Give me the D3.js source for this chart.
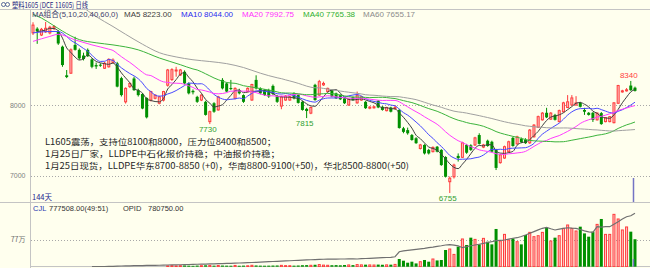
<!DOCTYPE html>
<html><head><meta charset="utf-8">
<script src="https://cdn.jsdelivr.net/npm/d3@7/dist/d3.min.js"></script>
<style>html,body{margin:0;padding:0;background:#ffffee;}svg{display:block}</style>
</head><body>
<svg id="c" width="650" height="268"></svg>
<script>
// ---------------- data ----------------
const opens = [
9020,9080,8990,9035,9020,9090,9035,8825,8420,8450,
8850,8780,8700,8780,8645,8565,8570,8520,8540,8600,
8590,8380,8045,8260,8375,8210,8155,8100,8070,8095,
8025,8070,8280,8360,8490,8425,8470,8305,8200,8115,
8070,8045,7765,8025,7930,8355,8305,8240,8095,8210,
8140,8190,8070,8355,8235,8210,8210,8270,8125,7985,
8070,8070,8165,8140,8045,7945,7885,8285,8140,8285,
8190,8210,8165,8140,8095,8000,8110,8030,8070,8045,
7955,7960,8060,7975,7920,7965,7950,7930,7670,7645,
7575,7530,7385,7435,7365,7340,7410,7365,7265,6915,
6985,7280,7260,7435,7430,7435,7575,7405,7495,7480,
7365,7185,7250,7340,7535,7450,7520,7510,7465,7550,
7685,7790,7890,7800,7860,7765,7905,7965,8000,8000,
8030,7930,7890,7890,7790,7885,7765,7765,7750,8025,
8185,8200,8275,8245];
const highs = [
9170,9100,9090,9175,9120,9130,9060,8840,8495,8800,
8965,8800,8740,8800,8660,8600,8590,8610,8660,8660,
8610,8400,8250,8320,8400,8230,8170,8110,8200,8150,
8130,8200,8510,8520,8540,8510,8490,8320,8220,8130,
8150,8060,7920,8040,8130,8380,8320,8355,8250,8230,
8150,8250,8300,8420,8250,8220,8230,8290,8140,8130,
8140,8125,8180,8150,8060,7960,7975,8300,8355,8330,
8245,8220,8175,8150,8100,8090,8120,8190,8130,8055,
7985,7990,8070,7985,7975,7975,8000,7945,7690,7680,
7590,7545,7450,7445,7380,7415,7420,7375,7275,6990,
7170,7315,7480,7450,7445,7550,7600,7450,7510,7495,
7380,7310,7425,7495,7550,7565,7540,7530,7660,7730,
7850,7900,7960,7900,7875,7935,8045,8140,8140,8125,
8045,7960,7900,7900,7895,7900,7830,7845,8040,8285,
8215,8240,8340,8260];
const lows = [
8990,8865,8975,9020,9000,9060,8850,8540,8380,8440,
8770,8640,8630,8680,8520,8510,8540,8510,8530,8590,
8250,8120,8020,8240,8200,8120,7940,7810,8050,8080,
8010,8050,8260,8340,8400,8410,8290,8150,8150,8030,
8055,7850,7730,7890,7920,8220,8180,8210,8080,8150,
8030,8180,8060,8220,8150,8130,8100,8140,8030,7940,
8060,8060,8080,8020,7920,7815,7870,8060,8130,8270,
8180,8110,8085,8070,8015,7990,8060,8020,8060,7945,
7940,7950,7955,7920,7910,7895,7930,7665,7600,7580,
7495,7450,7370,7300,7300,7330,7330,7140,6975,6755,
6960,7200,7250,7310,7350,7420,7440,7390,7410,7330,
7080,7170,7240,7330,7410,7440,7460,7450,7450,7540,
7675,7780,7815,7790,7780,7755,7895,7955,7990,7990,
7965,7860,7850,7760,7780,7720,7755,7755,7740,8015,
8175,8190,8200,8190];
const closes = [
9130,9040,9070,9085,9100,9110,8870,8565,8395,8780,
8780,8660,8650,8690,8540,8545,8555,8590,8645,8635,
8260,8140,8235,8305,8210,8140,7950,7825,8190,8140,
8115,8190,8495,8500,8495,8495,8305,8165,8180,8045,
8140,7860,7905,7905,8115,8235,8190,8235,8235,8165,
8045,8235,8290,8235,8165,8140,8120,8155,8045,8115,
8125,8115,8095,8030,7930,7915,7965,8070,8330,8305,
8235,8120,8095,8080,8025,8080,8070,8140,8115,7955,
7970,7975,7965,7930,7965,7905,7965,7675,7620,7600,
7505,7460,7435,7315,7315,7400,7340,7150,6985,6965,
7150,7250,7465,7325,7365,7535,7450,7435,7420,7340,
7110,7295,7410,7480,7420,7550,7475,7460,7645,7715,
7835,7885,7825,7885,7790,7920,8030,8045,8100,8030,
7975,7905,7860,7790,7885,7730,7820,7835,8030,8275,
8200,8215,8210,8200];
const volumes = [
0,0,0,0,0,0,0,0,0,0,
0,0,0,0,0,0,0,0,0,0,
0,0,0,0,0,0,0,0,0,0,
0,0,25000,30000,22000,28000,35000,30000,25000,32000,
28000,40000,38000,30000,35000,33000,30000,28000,36000,27000,
31000,26000,40000,35000,30000,28000,30000,33000,35000,38000,
30000,28000,30000,34000,42000,45000,40000,55000,60000,45000,
40000,42000,45000,40000,48000,50000,45000,60000,52000,58000,
50000,48000,60000,55000,52000,58000,65000,218000,170000,113000,
142000,93000,142000,190000,142000,218000,178000,190000,473000,501000,
348000,567000,785000,615000,822000,773000,632000,802000,708000,632000,
1068000,728000,915000,756000,802000,708000,632000,898000,972000,850000,
878000,972000,1105000,728000,822000,878000,1085000,1181000,1085000,1011000,
1133000,943000,850000,992000,1198000,1351000,915000,915000,1482000,1351000,
1040000,1125000,992000,777508];
const openInterest = [
null,null,null,null,null,null,null,null,null,null,
null,null,null,null,20000,21000,22000,23000,24500,26000,
28000,30000,31000,32500,34000,35000,36000,37500,39000,40000,
41000,42500,44000,45000,46500,48000,50000,51000,53000,55000,
56000,58000,60000,61500,63000,65000,66500,68000,70000,72500,
75000,78000,80000,83000,86000,88000,91000,94000,96500,99000,
102000,105000,108000,111000,113000,116000,119000,121000,124000,126000,
127000,128000,129000,130000,130000,131000,132000,130000,134000,137000,
140000,143000,146000,149000,151000,154000,162000,233000,245000,252000,
260000,268000,275000,282000,292000,300000,310000,318000,329000,335000,
328000,317000,291000,305000,318000,329000,340000,352000,365000,376000,
392000,396000,400000,412000,425000,433000,450000,472000,496000,520000,
545000,567000,580000,560000,543000,555000,567000,575000,570000,567000,
550000,530000,515000,510000,590000,585000,592000,590000,625000,661000,
700000,732000,745000,780750];

// moving averages: periods, legend values, and read-off values where the window is not yet full
const maPeriods = [5, 10, 20, 40, 60];
const maNames = ["MA5", "MA10", "MA20", "MA40", "MA60"];
const maLegendValues = ["8223.00", "8044.00", "7992.75", "7765.38", "7655.17"];
const ma5Lead = [[1, 9040], [3, 9060]];
const ma10Lead = [[0, 9020], [4, 9040], [6, 9040], [8, 8970]];
const ma20Lead = [[0, 8900], [4, 8970], [6, 9000], [10, 8920], [14, 8850], [18, 8790]];
const ma40Lead = [[0, 9280], [2, 9230], [5, 9120], [7, 9045], [11, 8925], [15, 8880], [19, 8850], [25, 8780], [30, 8665], [35, 8570], [38, 8510]];
const ma60Lead = [[0, 9800], [8, 9550], [15, 9250], [19, 9110], [22, 9000], [26, 8860], [30, 8740], [34, 8680], [38, 8640], [42, 8615], [46, 8585], [50, 8530], [54, 8450], [58, 8385]];

const priceTicks = [7000, 8000];
const volTicks = [770000];
const volTickLabels = ["77万"];

const markIndex = [42, 65, 99, 142];
const markValue = [7730, 7815, 6755, 8340];
const markKind = ["low", "low", "low", "high"];

const titleText = "塑料1605 (DCE 11605) 日线";
const comboText = "MA组合(5,10,20,40,60,0)";
const noteLines = [
  "L1605震荡，支持位8100和8000，压力位8400和8500；",
  "1月25日厂家，LLDPE中石化报价持稳；中油报价持稳；",
  "1月25日现货，LLDPE华东8700-8850 (+0)，华南8800-9100(+50)，华北8500-8800(+50)"
];
const volLabel = ["CJL", "777508.00(49:51)", "OPID", "780750.00"];

// ---------------- layout / style ----------------
const W = 650, H = 268;
const BG = "#ffffee";
const UP = "#ff3c3c", UPFILL = "#ffc4c4", DOWN = "#009000";
const maColors = ["#404040", "#4848ff", "#ff3cff", "#3cb43c", "#a0a0a0"];
const maTextColors = ["#404040", "#2c2cf0", "#ff30ff", "#30b030", "#8c8c8c"];
const LAT = "'Liberation Sans','Noto Sans CJK SC',sans-serif";
const CJK = "'Noto Sans CJK SC','Liberation Sans',sans-serif";

const svg = d3.select("#c");
svg.append("rect").attr("width", W).attr("height", H).attr("fill", BG);

const n = closes.length;
const x = d3.scaleBand().domain(d3.range(n)).range([30.9, 637.1]);
const cx = i => x(i) + x.bandwidth() / 2;
const y = d3.scaleLinear().domain([7000, 8000]).range([175.7, 105]);
const yv = d3.scaleLinear().domain([0, 770000]).range([266.7, 239.5]);
const yo = d3.scaleLinear().domain(d3.extent(openInterest.filter(v => v != null))).range([266.7, 213.3]);

const defs = svg.append("defs");
defs.append("clipPath").attr("id", "main").append("rect").attr("x", 31).attr("y", 10).attr("width", W - 31).attr("height", 192);
defs.append("clipPath").attr("id", "low").append("rect").attr("x", 31).attr("y", 203).attr("width", W - 31).attr("height", 64);

// frame
const frame = svg.append("g").attr("stroke", "#c4c4c4").attr("stroke-width", 1).attr("shape-rendering", "crispEdges");
frame.append("line").attr("x1", 0).attr("x2", W).attr("y1", 9.5).attr("y2", 9.5);
frame.append("line").attr("x1", 0).attr("x2", W).attr("y1", 202.5).attr("y2", 202.5);
frame.append("line").attr("x1", 30.5).attr("x2", W).attr("y1", 266.5).attr("y2", 266.5);
frame.append("line").attr("x1", 30.5).attr("x2", 30.5).attr("y1", 9.5).attr("y2", 268);

// grid
const grid = svg.append("g").attr("stroke", "#a8a8a8").attr("stroke-dasharray", "1,2");
grid.selectAll("line.p").data(priceTicks).join("line").attr("class", "p")
  .attr("x1", 31).attr("x2", W).attr("y1", d => Math.round(y(d)) + 0.5).attr("y2", d => Math.round(y(d)) + 0.5);
grid.selectAll("line.v").data(volTicks).join("line").attr("class", "v")
  .attr("x1", 31).attr("x2", W).attr("y1", d => Math.round(yv(d)) + 0.5).attr("y2", d => Math.round(yv(d)) + 0.5);

// axes
const ax = svg.append("g").attr("transform", "translate(30.5,0)")
  .call(d3.axisLeft(y).tickValues(priceTicks).tickSize(0).tickPadding(5).tickFormat(d3.format("d")));
ax.select(".domain").remove();
ax.selectAll("text").attr("fill", "#808080").style("font-size", "7px").style("font-family", LAT);
const avx = svg.append("g").attr("transform", "translate(30.5,0)")
  .call(d3.axisLeft(yv).tickValues(volTicks).tickSize(0).tickPadding(5).tickFormat((d, i) => volTickLabels[i]));
avx.select(".domain").remove();
avx.selectAll("text").attr("fill", "#707070").style("font-size", "7px").style("font-family", CJK);

// candles
const mainG = svg.append("g").attr("clip-path", "url(#main)");
const idx = d3.range(n);
const isUp = i => closes[i] >= opens[i];
mainG.selectAll("line.w").data(idx).join("line").attr("class", "w")
  .attr("x1", cx).attr("x2", cx)
  .attr("y1", i => y(highs[i])).attr("y2", i => y(lows[i]))
  .attr("stroke", i => isUp(i) ? UP : DOWN).attr("stroke-width", 1);
mainG.selectAll("rect.b").data(idx).join("rect").attr("class", "b")
  .attr("x", i => isUp(i) ? cx(i) - 1 : cx(i) - 1.5)
  .attr("width", i => isUp(i) ? 2 : 3)
  .attr("y", i => y(Math.max(opens[i], closes[i])))
  .attr("height", i => Math.max(1, y(Math.min(opens[i], closes[i])) - y(Math.max(opens[i], closes[i]))))
  .attr("fill", i => isUp(i) ? UPFILL : DOWN)
  .attr("stroke", i => isUp(i) ? UP : "none").attr("stroke-width", 1);

// moving averages
const leads = [ma5Lead, ma10Lead, ma20Lead, ma40Lead, ma60Lead];
const maLine = d3.line().x(d => cx(d.i)).y(d => y(d.v)).curve(d3.curveMonotoneX);
maPeriods.forEach((p, k) => {
  const pts = leads[k].map(([i, v]) => ({ i, v }));
  closes.forEach((c, i) => {
    if (i >= p - 1) pts.push({ i, v: d3.mean(closes.slice(i - p + 1, i + 1)) });
  });
  mainG.append("path").attr("d", maLine(pts)).attr("fill", "none")
    .attr("stroke", maColors[k]).attr("stroke-width", 1);
});

// high / low marks
svg.append("g").selectAll("text").data(markIndex).join("text")
  .attr("x", (d) => cx(d) - 2)
  .attr("y", (d, k) => markKind[k] === "high" ? y(markValue[k]) - 3 : y(markValue[k]) + 7.5)
  .attr("text-anchor", "middle")
  .attr("fill", (d, k) => markKind[k] === "high" ? "#ff4040" : "#30a030")
  .style("font-size", "8px").style("font-family", LAT)
  .text((d, k) => markValue[k]);

// cursor line at last bar
const lastX = cx(n - 1) - 1.5;
svg.append("line").attr("x1", lastX).attr("x2", lastX).attr("y1", 178).attr("y2", 202)
  .attr("stroke", "#7474c4").attr("stroke-width", 1.5);

// volume bars
const lowG = svg.append("g").attr("clip-path", "url(#low)");
const vIdx = idx.filter(i => volumes[i] > 0);
lowG.selectAll("rect").data(vIdx).join("rect")
  .attr("x", i => isUp(i) ? cx(i) - 1 : cx(i) - 1.5)
  .attr("width", i => isUp(i) ? 2 : 3)
  .attr("y", i => yv(volumes[i]))
  .attr("height", i => Math.max(0.8, yv(0) - yv(volumes[i])))
  .attr("fill", i => isUp(i) ? UPFILL : DOWN)
  .attr("stroke", i => isUp(i) ? UP : "none").attr("stroke-width", 1);
const oiPts = idx.filter(i => openInterest[i] != null);
lowG.append("path")
  .attr("d", d3.line().x(i => cx(i)).y(i => yo(openInterest[i]))(oiPts))
  .attr("fill", "none").attr("stroke", "#707070").attr("stroke-width", 1.2);
svg.append("line").attr("x1", lastX).attr("x2", lastX).attr("y1", 259).attr("y2", 266.5)
  .attr("stroke", "#7474c4").attr("stroke-width", 1.5);

// title
const tg = svg.append("g");
tg.append("circle").attr("cx", 3.5).attr("cy", 4.5).attr("r", 2).attr("fill", "none").attr("stroke", "#5a6a9a").attr("stroke-width", 1);
tg.append("circle").attr("cx", 7.5).attr("cy", 4.5).attr("r", 2).attr("fill", "none").attr("stroke", "#5a6a9a").attr("stroke-width", 1);
tg.append("text").attr("x", 12).attr("y", 7.5).attr("fill", "#1c1c80")
  .style("font-size", "8px").style("font-family", CJK)
  .attr("textLength", 76).attr("lengthAdjust", "spacingAndGlyphs").text(titleText);

// MA legend
const lg = svg.append("g").style("font-size", "8px").style("font-family", LAT);
lg.append("text").attr("x", 32).attr("y", 17).attr("fill", "#40406c")
  .attr("textLength", 86).attr("lengthAdjust", "spacingAndGlyphs").text(comboText);
const legendX = [124, 181, 242, 303, 363];
maNames.forEach((m, k) => {
  lg.append("text").attr("x", legendX[k]).attr("y", 17).attr("fill", maTextColors[k])
    .text(m + " " + maLegendValues[k]);
});

// notes
const noteLen = [231, 235, 364];
const ng = svg.append("g").style("font-size", "8.5px").style("font-family", CJK).attr("fill", "#262626");
noteLines.forEach((t, k) => {
  ng.append("text").attr("x", 45).attr("y", 144.8 + k * 12.3)
    .attr("textLength", noteLen[k]).attr("lengthAdjust", "spacingAndGlyphs").text(t);
});

// day count
svg.append("text").attr("x", 32).attr("y", 199.5).attr("fill", "#1c1c90")
  .style("font-size", "7.5px").style("font-family", CJK).text(n + "天");

// volume header
const vx = [33, 49, 123, 148];
const vc = ["#2838b0", "#333333", "#333333", "#333333"];
svg.append("g").style("font-size", "7.5px").style("font-family", LAT)
  .selectAll("text").data(volLabel).join("text")
  .attr("x", (d, k) => vx[k]).attr("y", 211).attr("fill", (d, k) => vc[k]).text(d => d);
</script>
</body></html>
